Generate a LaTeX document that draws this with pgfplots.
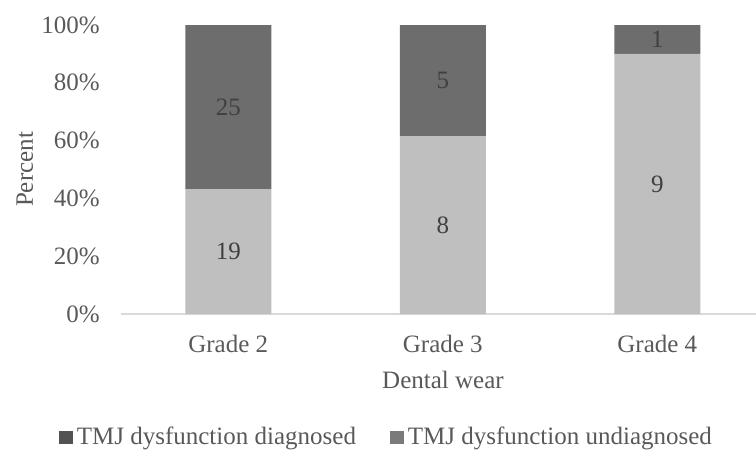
\documentclass[border=0pt]{standalone}
\usepackage{fontspec}
\setmainfont{Liberation Serif}
\usepackage{pgfplots}
\usepackage{pgfplotstable}
\pgfplotsset{compat=1.18}
\definecolor{txt}{HTML}{595959}
\definecolor{vtxt}{HTML}{404040}
\definecolor{darkbar}{HTML}{6D6D6D}
\definecolor{lightbar}{HTML}{BFBFBF}
\definecolor{legdark}{HTML}{525252}
\definecolor{legmid}{HTML}{7A7A7A}
\definecolor{axline}{HTML}{D9D9D9}
\pgfplotstableread{
x pu nu pd nd
0 43.18 19 56.82 25
1 61.54 8 38.46 5
2 90.00 9 10.00 1
}\datatab
\begin{document}
\fontsize{12.5bp}{15bp}\selectfont
\begin{tikzpicture}
\begin{axis}[
  scale only axis,
  width=317.5bp, height=144.5bp,
  xmin=-0.5, xmax=2.46,
  ymin=0, ymax=100,
  ybar stacked,
  bar width=43bp,
  axis x line*=bottom,
  axis y line*=left,
  x axis line style={draw=axline, line width=0.8bp, -},
  y axis line style={draw=none},
  major tick length=0pt,
  tick style={draw=none},
  xtick={0,1,2},
  xticklabels={Grade 2,Grade 3,Grade 4},
  ytick={0,20,40,60,80,100},
  yticklabels={0\%,20\%,40\%,60\%,80\%,100\%},
  xticklabel style={anchor=base, inner sep=0pt, yshift=-19bp, text=txt, font=\fontsize{12.5bp}{15bp}\selectfont},
  yticklabel style={anchor=east, inner sep=0pt, xshift=-10.5bp, text=txt, font=\fontsize{12.5bp}{15bp}\selectfont},
  xlabel={Dental wear},
  ylabel={Percent},
  every axis x label/.style={at={(axis description cs:0.507,0)}, anchor=base, yshift=-37bp, text=txt, font=\fontsize{12.5bp}{15bp}\selectfont},
  every axis y label/.style={at={(axis description cs:-0.1386,0.5)}, rotate=90, anchor=base, text=txt, font=\fontsize{12.5bp}{15bp}\selectfont},
  legend columns=2,
  legend style={at={(axis description cs:0.4197,-0.427)}, anchor=center, draw=none, fill=none,
    inner sep=0pt, font=\fontsize{12.5bp}{15bp}\selectfont, text=txt,
    nodes={inner sep=2bp},
    /tikz/every even column/.append style={column sep=15bp}},
  legend cell align=left,
]
\addplot[fill=lightbar, draw=none, forget plot] table[x=x, y=pu] {\datatab};
\addplot[fill=darkbar, draw=none, forget plot] table[x=x, y=pd] {\datatab};
\addlegendimage{legend image code/.code={\fill[legdark] (0bp,-3bp) rectangle (6.5bp,3bp);}}
\addlegendentry{TMJ dysfunction diagnosed}
\addlegendimage{legend image code/.code={\fill[legmid] (0bp,-3bp) rectangle (6.5bp,3bp);}}
\addlegendentry{TMJ dysfunction undiagnosed}
\end{axis}
\begin{axis}[
  scale only axis,
  width=317.5bp, height=144.5bp,
  xmin=-0.5, xmax=2.46,
  ymin=0, ymax=100,
  hide axis,
  nodes near coords, point meta=explicit symbolic,
  every node near coord/.append style={anchor=center, inner sep=0pt, text=vtxt, font=\fontsize{12.5bp}{15bp}\selectfont},
]
\addplot[draw=none, mark=none] table[x=x, y expr=\thisrow{pu}/2, meta=nu] {\datatab};
\addplot[draw=none, mark=none] table[x=x, y expr=\thisrow{pu}+\thisrow{pd}/2, meta=nd] {\datatab};
\end{axis}
\pgfresetboundingbox
\useasboundingbox (-60.5bp,-68.5bp) rectangle (317.5bp,157bp);
\end{tikzpicture}
\end{document}
